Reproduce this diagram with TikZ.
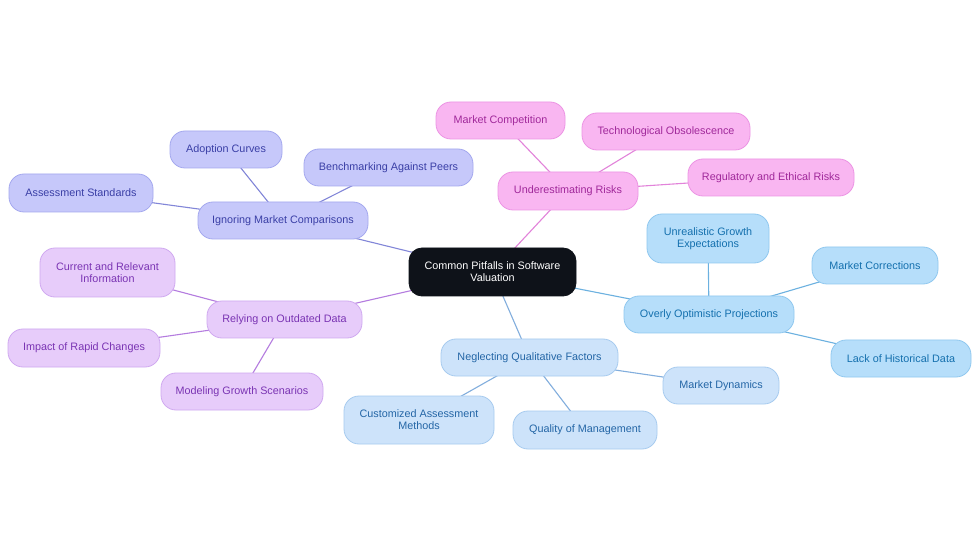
\documentclass[tikz,border=0pt]{standalone}
\usepackage{fontspec}
\setmainfont{Liberation Sans}
\usetikzlibrary{backgrounds}
\pgfdeclarelayer{edges}
\pgfsetlayers{background,edges,main}
\definecolor{pinkfill}{HTML}{F9B6F1}
\definecolor{pinkdraw}{HTML}{EC94E4}
\definecolor{pinktext}{HTML}{A0289A}
\definecolor{pinkline}{HTML}{E283DA}
\definecolor{indfill}{HTML}{C6C8FA}
\definecolor{inddraw}{HTML}{A4A8EE}
\definecolor{indtext}{HTML}{3A3FA6}
\definecolor{indline}{HTML}{8286D8}
\definecolor{lilfill}{HTML}{E7CCFA}
\definecolor{lildraw}{HTML}{D0A9F0}
\definecolor{liltext}{HTML}{7A34B3}
\definecolor{lilline}{HTML}{B47CDF}
\definecolor{lbfill}{HTML}{CDE3FA}
\definecolor{lbdraw}{HTML}{A7CBEF}
\definecolor{lbtext}{HTML}{2466A6}
\definecolor{lbline}{HTML}{82AEDD}
\definecolor{skyfill}{HTML}{B6DEFA}
\definecolor{skydraw}{HTML}{90C8EF}
\definecolor{skytext}{HTML}{1470AE}
\definecolor{skyline}{HTML}{6CB1E0}
\definecolor{rootfill}{HTML}{0E1219}
\tikzset{
  box/.style={rectangle, rounded corners=15pt, line width=0.8pt, align=center,
    font=\fontsize{10.8}{12.2}\selectfont, inner sep=2pt},
  pinkbox/.style={box, fill=pinkfill, draw=pinkdraw, text=pinktext},
  indbox/.style={box, fill=indfill, draw=inddraw, text=indtext},
  lilbox/.style={box, fill=lilfill, draw=lildraw, text=liltext},
  lbbox/.style={box, fill=lbfill, draw=lbdraw, text=lbtext},
  skybox/.style={box, fill=skyfill, draw=skydraw, text=skytext},
  rootbox/.style={box, rounded corners=13pt, fill=rootfill, draw=rootfill, text=white},
  link/.style={line width=1.1pt},
}
\newcommand{\bx}[7]{\node[#1, minimum width=#4pt, minimum height=#5pt] (#2) at (#6,-#7) {#3};}
\begin{document}
\begin{tikzpicture}[x=1pt,y=1pt]
\begin{pgfonlayer}{background}
\fill[white] (0,0) rectangle (980,-553);
\end{pgfonlayer}
\useasboundingbox (0,0) rectangle (980,-553);
\bx{rootbox}{root}{Common Pitfalls in Software\\Valuation}{167}{48}{492.5}{272}
% pink
\bx{pinkbox}{risk}{Underestimating Risks}{140}{38}{568}{191}
\bx{pinkbox}{comp}{Market Competition}{129}{37}{500.5}{120.5}
\bx{pinkbox}{tech}{Technological Obsolescence}{168}{37}{666}{131.5}
\bx{pinkbox}{reg}{Regulatory and Ethical Risks}{166}{37}{771}{177.5}
% indigo
\bx{indbox}{ign}{Ignoring Market Comparisons}{170}{37}{283}{220.5}
\bx{indbox}{adop}{Adoption Curves}{112}{37}{226}{149.5}
\bx{indbox}{bench}{Benchmarking Against Peers}{169}{37}{388.5}{167.5}
\bx{indbox}{assess}{Assessment Standards}{144}{38}{81}{193}
% lilac
\bx{lilbox}{rely}{Relying on Outdated Data}{155}{37}{284.5}{319.5}
\bx{lilbox}{curr}{Current and Relevant\\Information}{135}{49}{107.5}{272.5}
\bx{lilbox}{impact}{Impact of Rapid Changes}{152}{38}{84}{348}
\bx{lilbox}{model}{Modeling Growth Scenarios}{162}{37}{242}{391.5}
% light blue
\bx{lbbox}{negl}{Neglecting Qualitative Factors}{177}{37}{529.5}{357.5}
\bx{lbbox}{cust}{Customized Assessment\\Methods}{150}{48}{419}{420}
\bx{lbbox}{qual}{Quality of Management}{144}{38}{585}{430}
\bx{lbbox}{dyn}{Market Dynamics}{116}{37}{721}{385.5}
% sky
\bx{skybox}{over}{Overly Optimistic Projections}{170}{37}{709}{314.5}
\bx{skybox}{unreal}{Unrealistic Growth\\Expectations}{122}{49}{708}{238.5}
\bx{skybox}{corr}{Market Corrections}{126}{37}{875}{265.5}
\bx{skybox}{lack}{Lack of Historical Data}{140}{37}{901}{358.5}
\begin{pgfonlayer}{edges}
\draw[link, pinkline] (root.center) -- (risk.center);
\draw[link, pinkline] (risk.center) -- (comp.center);
\draw[link, pinkline] (risk.center) -- (tech.center);
\draw[link, pinkline] (risk.center) -- (reg.center);
\draw[link, indline] (root.center) -- (ign.center);
\draw[link, indline] (ign.center) -- (adop.center);
\draw[link, indline] (ign.center) -- (bench.center);
\draw[link, indline] (ign.center) -- (assess.center);
\draw[link, lilline] (root.center) -- (rely.center);
\draw[link, lilline] (rely.center) -- (curr.center);
\draw[link, lilline] (rely.center) -- (impact.center);
\draw[link, lilline] (rely.center) -- (model.center);
\draw[link, lbline] (root.center) -- (negl.center);
\draw[link, lbline] (negl.center) -- (cust.center);
\draw[link, lbline] (negl.center) -- (qual.center);
\draw[link, lbline] (negl.center) -- (dyn.center);
\draw[link, skyline] (root.center) -- (over.center);
\draw[link, skyline] (over.center) -- (unreal.center);
\draw[link, skyline] (over.center) -- (corr.center);
\draw[link, skyline] (over.center) -- (lack.center);
\end{pgfonlayer}
\end{tikzpicture}
\end{document}
